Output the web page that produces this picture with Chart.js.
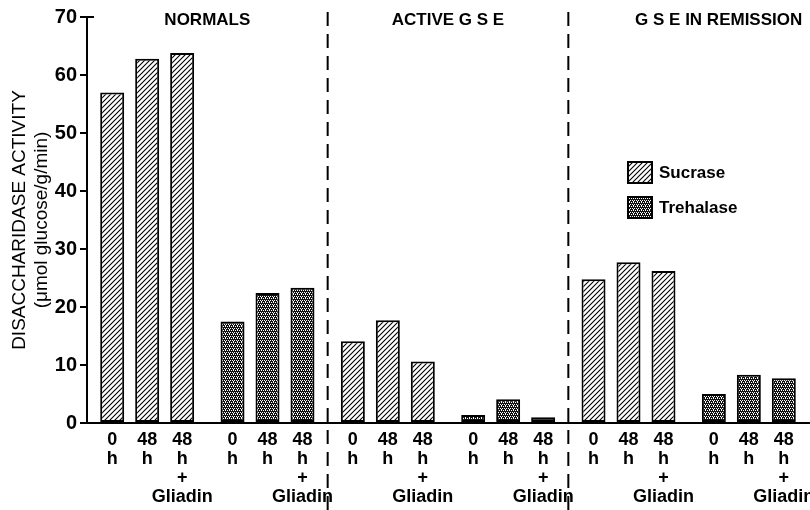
<!DOCTYPE html>
<html>
<head>
<meta charset="utf-8">
<script src="https://cdn.jsdelivr.net/npm/chart.js@4.4.1/dist/chart.umd.min.js"></script>
<style>
  body { margin: 0; background: #fff; }
  canvas { display: block; }
</style>
</head>
<body>
<canvas id="chart" width="810" height="510"></canvas>
<script>
// three study groups, each with a sucrase and a trehalase block of bars
const sections = ['NORMALS', 'ACTIVE G S E', 'G S E IN REMISSION'];
const enzymes = ['Sucrase', 'Trehalase'];
const conditions = ['0 h', '48 h', '48 h + Gliadin'];
const conditionLabels = [['0', 'h'], ['48', 'h'], ['48', 'h', '+', 'Gliadin']];

// activity per section, ordered 0 h, 48 h, 48 h + Gliadin
const sucrase = [
  [57.0, 62.8, 63.8],   // normals
  [14.1, 17.7, 10.6],   // active GSE
  [24.8, 27.7, 26.2]    // GSE in remission
];
const trehalase = [
  [17.5, 22.4, 23.3],
  [1.4, 4.1, 1.0],
  [5.0, 8.3, 7.7]
];

const yTicks = [0, 10, 20, 30, 40, 50, 60, 70];

const FONT = "'Liberation Sans', Arial, sans-serif";

// fill patterns like the original print
function hatchPattern(ctx) {
  const c = document.createElement('canvas');
  c.width = 5; c.height = 5;
  const g = c.getContext('2d');
  g.fillStyle = '#fff';
  g.fillRect(0, 0, 5, 5);
  g.strokeStyle = '#000';
  g.lineWidth = 1.1;
  g.beginPath();
  g.moveTo(0, 5); g.lineTo(5, 0);
  g.moveTo(-1, 1); g.lineTo(1, -1);
  g.moveTo(4, 6); g.lineTo(6, 4);
  g.stroke();
  return ctx.createPattern(c, 'repeat');
}

function stipplePattern(ctx) {
  const c = document.createElement('canvas');
  c.width = 4; c.height = 4;
  const g = c.getContext('2d');
  g.fillStyle = '#111';
  g.fillRect(0, 0, 4, 4);
  g.fillStyle = '#fff';
  [[0, 0], [2, 0], [1, 2], [3, 2], [1, 1]].forEach(p => g.fillRect(p[0], p[1], 1, 1));
  return ctx.createPattern(c, 'repeat');
}

const ctx = document.getElementById('chart').getContext('2d');
const patterns = [hatchPattern(ctx), stipplePattern(ctx)];

// one category per block of three bars
const categories = [];
sections.forEach(s => enzymes.forEach(e => categories.push(s + ' ' + e)));

const datasets = conditions.map((cond, i) => {
  const data = [];
  sections.forEach((s, k) => {
    data.push(sucrase[k][i]);
    data.push(trehalase[k][i]);
  });
  return {
    label: cond,
    data: data,
    backgroundColor: categories.map((c, j) => patterns[j % 2]),
    borderColor: '#000',
    borderWidth: 2,
    borderSkipped: false,
    barPercentage: 0.686,
    categoryPercentage: 0.872
  };
});

const decorations = {
  id: 'decorations',
  afterDraw(chart) {
    const c = chart.ctx;
    const xs = chart.scales.x;
    const ys = chart.scales.y;
    const base = ys.getPixelForValue(0);
    c.save();

    // hook at the top of the y axis
    c.strokeStyle = '#000';
    c.lineWidth = 2;
    c.beginPath();
    c.moveTo(xs.left, ys.getPixelForValue(70));
    c.lineTo(xs.left + 7, ys.getPixelForValue(70));
    c.stroke();

    // dashed separators between the groups
    c.setLineDash([14, 8]);
    for (let k = 1; k < sections.length; k++) {
      const x = (xs.getPixelForValue(2 * k - 1) + xs.getPixelForValue(2 * k)) / 2;
      c.beginPath();
      c.moveTo(x, 12);
      c.lineTo(x, chart.height);
      c.stroke();
    }
    c.setLineDash([]);

    // group titles
    c.fillStyle = '#000';
    c.font = 'bold 17px ' + FONT;
    c.textAlign = 'center';
    c.textBaseline = 'middle';
    const titleShift = [0, 0, 30];
    sections.forEach((s, k) => {
      const x = (xs.getPixelForValue(2 * k) + xs.getPixelForValue(2 * k + 1)) / 2;
      c.fillText(s, x + titleShift[k], ys.getPixelForValue(70) + 3);
    });

    // labels under every bar
    c.font = 'bold 18px ' + FONT;
    const rowOffsets = [17, 36, 55, 74];
    chart.data.datasets.forEach((ds, i) => {
      chart.getDatasetMeta(i).data.forEach(bar => {
        conditionLabels[i].forEach((t, r) => c.fillText(t, bar.x, base + rowOffsets[r]));
      });
    });

    // legend
    const lx = xs.right - 181;
    const ly = [162, 197];
    c.textAlign = 'left';
    c.font = 'bold 17px ' + FONT;
    enzymes.forEach((e, j) => {
      c.fillStyle = patterns[j];
      c.fillRect(lx, ly[j], 24, 21);
      c.strokeRect(lx, ly[j], 24, 21);
      c.fillStyle = '#000';
      c.fillText(e, lx + 31, ly[j] + 11);
    });
    c.restore();
  }
};

new Chart(ctx, {
  type: 'bar',
  data: { labels: categories, datasets: datasets },
  options: {
    responsive: false,
    animation: false,
    layout: { padding: { left: 0, right: 1, top: 17, bottom: 0 } },
    plugins: {
      legend: { display: false },
      tooltip: { enabled: false }
    },
    scales: {
      x: {
        ticks: { display: false },
        grid: { display: false },
        border: { display: true, color: '#000', width: 2 },
        afterFit: s => { s.height = 87; }
      },
      y: {
        min: 0,
        max: 70,
        afterBuildTicks: s => { s.ticks = yTicks.map(v => ({ value: v })); },
        ticks: {
          color: '#000',
          font: { family: FONT, size: 20, weight: 'bold' },
          padding: 3
        },
        grid: { drawOnChartArea: false, color: '#000', lineWidth: 2, tickLength: 7 },
        border: { display: true, color: '#000', width: 2 },
        title: {
          display: true,
          text: ['DISACCHARIDASE ACTIVITY', '(\u03bcmol glucose/g/min)'],
          color: '#000',
          font: { family: FONT, size: 19 },
          padding: { top: 8, bottom: 0 }
        },
        afterFit: s => { s.width = 87; }
      }
    }
  },
  plugins: [decorations]
});
</script>
</body>
</html>
